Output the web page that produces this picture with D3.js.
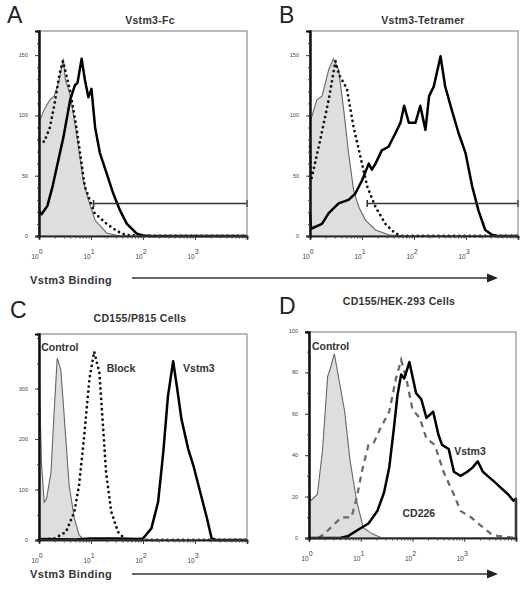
<!DOCTYPE html>
<html><head><meta charset="utf-8">
<script src="https://cdn.jsdelivr.net/npm/d3@7"></script>
<style>body{margin:0;background:#fff}svg{display:block}text{font-family:"Liberation Sans",Arial,sans-serif}</style>
</head><body><svg id="c" width="527" height="601"></svg>
<script>
// ---------- data (x = fluorescence intensity, y = cell count) ----------
const xTickExponents = [0, 1, 2, 3];
const yTicksAB = [0, 50, 100, 150];
const yTicksC = [0, 100, 200, 300];
const yTicksD = [0, 20, 40, 60, 80, 100];

const panelLetters = ["A", "B", "C", "D"];
const panelTitles = ["Vstm3-Fc", "Vstm3-Tetramer", "CD155/P815 Cells", "CD155/HEK-293 Cells"];
const axisLabel = "Vstm3 Binding";

// Panel A
const controlA = [[1,94],[1.26,105],[1.62,113],[1.95,116],[2.4,128],[2.95,147],[3.2,130],[3.98,117],[5.25,85],[7.1,46],[8.9,30],[12,13],[20,2.5],[36,0],[10000,0]];
const dotA = [[1,80],[1.26,78],[1.62,90],[2.0,110],[2.5,135],[2.88,145],[3.3,135],[3.98,120],[5.25,90],[7.6,41],[11.7,19],[20,10],[32,4],[45,1],[100,0],[10000,0]];
const vstm3A = [[1,21],[1.12,18],[1.45,25],[1.82,41],[2.95,82],[3.98,113],[4.9,125],[5.5,127],[6.6,147],[7.6,130],[8.9,115],[10.2,122],[12,90],[14.8,69],[20,52],[26.9,35],[36.3,21],[49,10],[75.9,2],[100,0.5],[150,0],[10000,0]];
const gateA = [[11.2, 27], [10000, 27]];

// Panel B
const controlB = [[1,94],[1.35,113],[1.7,116],[2.29,138],[2.82,147],[3.55,138],[4.47,104],[5.5,69],[6.9,38],[8.7,24],[11.7,13],[18.2,5],[32.4,1],[60,0],[10000,0]];
const dotB = [[1,74],[1.05,46],[1.58,80],[2.29,113],[3.09,145],[3.6,134],[5.13,122],[6.9,90],[9.3,66],[12.6,41],[18.2,24],[28.2,10],[43.7,2],[60,0],[10000,0]];
const vstm3B = [[1,19],[1.05,6],[1.7,10],[2.29,19],[3.55,27],[5.5,30],[7.4,35],[10,46],[13.5,60],[15.5,55],[18.2,60],[24,71],[32.4,74],[43.7,85],[55,94],[64.6,108],[79.4,94],[107,94],[132,108],[166,88],[195,116],[240,124],[324,149],[398,124],[537,104],[724,85],[977,69],[1318,41],[1738,21],[2344,5],[3162,1],[4000,0],[10000,0]];
const gateB = [[12.6, 27], [10000, 27]];

// Panel C
const controlC = [[1,337],[1.12,150],[1.26,75],[1.4,82],[1.7,134],[1.95,252],[2.24,360],[2.63,337],[3.02,252],[3.8,108],[4.79,43],[5.89,10],[7.4,0],[10000,0]];
const blockC = [[1,0],[2,3],[3.31,16],[4.79,56],[5.89,108],[7.4,206],[9.3,318],[11.5,373],[14.5,331],[17,226],[19.5,134],[24.5,56],[33.1,16],[44.7,2],[60,0],[10000,0]];
const vstm3C = [[1,2],[5,1],[10,3],[30,3],[80,2],[100,3],[145,23],[195,75],[245,173],[302,285],[380,354],[447,305],[550,239],[741,180],[933,147],[1259,95],[1698,43],[2089,3],[2500,0],[10000,0]];
const labelsC = [["Control", 1.1, 375], ["Block", 20, 333], ["Vstm3", 590, 333]];

// Panel D
const controlD = [[1,27],[1.07,18],[1.45,21],[1.82,42],[2.29,78],[2.6,82],[3.09,89],[3.89,75],[4.9,61],[6.17,38],[8.3,18],[11.2,5],[16.6,2],[25.7,0],[10000,0]];
const cd226D = [[1.5,0],[2.0,2],[2.88,6],[4.27,10],[6.6,10],[8.3,19],[10.5,32],[14.1,45],[17.8,46],[24,53],[35.5,61],[47.9,77],[60.3,86],[75.9,77],[100,62],[138,58],[186,48],[269,45],[398,32],[631,21],[851,13],[1349,10],[2089,6],[3311,2],[4467,1],[10000,0]];
const vstm3D = [[1,0],[4,0],[5.75,1],[8.9,4],[14.1,7],[20.9,13],[28.2,22],[35.5,34],[43.7,53],[51.3,69],[60.3,79],[69.2,77],[87.1,85],[100,78],[117,70],[148,67],[186,58],[251,61],[316,50],[372,45],[501,43],[631,32],[851,30],[1148,32],[1445,34],[1820,37],[2291,32],[2818,30],[3890,27],[5248,24],[7079,21],[8913,18],[10000,19],[10000,0]];
const labelsD = [["Control", 1.14, 91], ["Vstm3", 640, 40], ["CD226", 64, 10]];

// ---------- drawing ----------
const svg = d3.select("#c");
const panels = [
  {x0:39, x1:247, y0:236, y1:31, ymax:170, yticks:yTicksAB, minor:10, letter:[7,23], title:[150,24],
   control:controlA, dotted:dotA, thick:vstm3A, gate:gateA},
  {x0:310, x1:518, y0:236, y1:31, ymax:170, yticks:yTicksAB, minor:10, letter:[279,23], title:[423,24],
   control:controlB, dotted:dotB, thick:vstm3B, gate:gateB},
  {x0:39, x1:247, y0:540, y1:334, ymax:408, yticks:yTicksC, minor:50, letter:[10,318], title:[140,322],
   control:controlC, dotted:blockC, thick:vstm3C, labels:labelsC},
  {x0:309, x1:516, y0:538, y1:332, ymax:99.5, yticks:yTicksD, minor:10, letter:[279,314], title:[399,305],
   control:controlD, dashed:cd226D, thick:vstm3D, labels:labelsD}
];

panels.forEach((p, i) => {
  const x = d3.scaleLog().domain([1, 10000]).range([p.x0, p.x1]);
  const y = d3.scaleLinear().domain([0, p.ymax]).range([p.y0, p.y1]);
  const g = svg.append("g");
  const line = d3.line().x(d => x(d[0])).y(d => y(Math.min(d[1], p.ymax)));
  const area = d3.area().x(d => x(d[0])).y0(y(0)).y1(d => y(d[1]));

  g.append("path").datum(p.control).attr("d", area).attr("fill", "#dedede");
  g.append("path").datum(p.control).attr("d", line).attr("fill", "none").attr("stroke", "#666").attr("stroke-width", 1.1);
  if (p.dotted) g.append("path").datum(p.dotted).attr("d", line).attr("fill", "none")
    .attr("stroke", "#111").attr("stroke-width", 2.8).attr("stroke-linecap", "round").attr("stroke-dasharray", "0 5.2");
  if (p.dashed) g.append("path").datum(p.dashed).attr("d", line).attr("fill", "none")
    .attr("stroke", "#6a6a6a").attr("stroke-width", 2.3).attr("stroke-dasharray", "6 5");
  g.append("path").datum(p.thick).attr("d", line).attr("fill", "none")
    .attr("stroke", "#000").attr("stroke-width", 2.5).attr("stroke-linejoin", "round");

  if (p.gate) {
    const gy = y(p.gate[0][1]);
    g.append("line").attr("x1", x(p.gate[0][0])).attr("x2", x(p.gate[1][0])).attr("y1", gy).attr("y2", gy)
      .attr("stroke", "#333").attr("stroke-width", 1.6);
    p.gate.forEach(d => g.append("line").attr("x1", x(d[0])).attr("x2", x(d[0])).attr("y1", gy - 3.5).attr("y2", gy + 3.5)
      .attr("stroke", "#333").attr("stroke-width", 1.6));
  }

  g.append("rect").attr("x", p.x0).attr("y", p.y1).attr("width", p.x1 - p.x0).attr("height", p.y0 - p.y1)
    .attr("fill", "none").attr("stroke", "#777").attr("stroke-width", 1);

  const minors = [];
  for (let e = 0; e < 4; e++) for (let k = 2; k <= 9; k++) minors.push(k * Math.pow(10, e));
  const xa = g.append("g").attr("transform", `translate(0,${p.y0})`)
    .call(d3.axisBottom(x).tickValues(xTickExponents.map(e => Math.pow(10, e)).concat([10000])).tickSize(4).tickFormat(""));
  const xm = g.append("g").attr("transform", `translate(0,${p.y0})`)
    .call(d3.axisBottom(x).tickValues(minors).tickSize(2.5).tickFormat(""));
  [xa, xm].forEach(a => { a.select(".domain").attr("stroke", "#222").attr("stroke-width", 1.6); a.selectAll(".tick line").attr("stroke", "#444"); });

  xTickExponents.forEach(e => {
    const t = g.append("text").attr("x", x(Math.pow(10, e)) - 2).attr("y", p.y0 + 23)
      .attr("text-anchor", "middle").attr("font-size", 6.5).attr("fill", "#444");
    t.append("tspan").text("10");
    t.append("tspan").attr("dy", -5).attr("font-size", 7).text(e);
  });

  const ya = g.append("g").attr("transform", `translate(${p.x0},0)`)
    .call(d3.axisLeft(y).tickValues(p.yticks).tickSize(4).tickFormat(""));
  const ym = g.append("g").attr("transform", `translate(${p.x0},0)`)
    .call(d3.axisLeft(y).tickValues(d3.range(0, p.ymax, p.minor)).tickSize(2).tickFormat(""));
  [ya, ym].forEach(a => { a.select(".domain").attr("stroke", "#111").attr("stroke-width", 2); a.selectAll(".tick line").attr("stroke", "#444"); });
  p.yticks.forEach(v => g.append("text").attr("x", p.x0 - 11).attr("y", y(v) + 2).attr("text-anchor", "end")
    .attr("font-size", 5.5).attr("fill", "#444").text(v));

  g.append("text").attr("x", p.letter[0]).attr("y", p.letter[1]).attr("font-size", 23).attr("fill", "#222").text(panelLetters[i]);
  g.append("text").attr("x", p.title[0]).attr("y", p.title[1]).attr("text-anchor", "middle").attr("font-size", 10.5)
    .attr("letter-spacing", 0.3).attr("font-weight", "bold").attr("fill", "#333").text(panelTitles[i]);

  if (p.labels) p.labels.forEach(l => g.append("text").attr("x", x(l[1])).attr("y", y(l[2]))
    .attr("font-size", 10.5).attr("font-weight", "bold").attr("fill", "#333").text(l[0]));
});

[[284, 278], [578, 574]].forEach(([ty, ly]) => {
  svg.append("text").attr("x", 30).attr("y", ty).attr("font-size", 11).attr("letter-spacing", 0.4)
    .attr("font-weight", "bold").attr("fill", "#333").text(axisLabel);
  svg.append("line").attr("x1", 132).attr("x2", 490).attr("y1", ly).attr("y2", ly).attr("stroke", "#333").attr("stroke-width", 1.5);
  svg.append("path").attr("d", `M487,${ly-4.5} L498,${ly} L487,${ly+4.5} Z`).attr("fill", "#222");
});
</script></body></html>
